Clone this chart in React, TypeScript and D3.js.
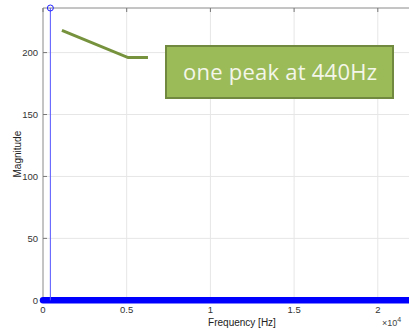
import React, { useEffect, useRef } from 'react'
import * as d3 from 'd3'

// spectrum: single peak at 440 Hz, everything else ~0
const peakFreq = [440]
const peakMag = [236]
const zeroBand = [0, 22050] // stems at zero span the whole range
const xTicks = [0, 5000, 10000, 15000, 20000]
const xTickLabels = ['0', '0.5', '1', '1.5', '2']
const yTicks = [0, 50, 100, 150, 200]
// annotation arrow (in data units)
const noteX = [1130, 5080, 6270]
const noteY = [218, 196, 196]
const noteText = 'one peak at 440Hz'

const App = () => {
  const svgRef = useRef<SVGSVGElement>(null)

  useEffect(() => {
    const width = 409
    const height = 328
    const margin = { top: 8, left: 43 }
    const svg = d3.select(svgRef.current)
    svg.selectAll('*').remove()

    const x = d3.scaleLinear().domain([0, 10000]).range([margin.left, margin.left + 167.4])
    const y = d3.scaleLinear().domain([0, 236]).range([300.3, margin.top])
    const xRight = x(22050)
    const yBottom = y(0)

    const g = svg.append('g').style('font-family', '"Liberation Sans", Arial, sans-serif')

    // grid
    g.selectAll('.gx').data(xTicks.slice(1)).enter().append('line')
      .attr('x1', d => x(d)).attr('x2', d => x(d))
      .attr('y1', margin.top).attr('y2', yBottom)
      .style('stroke', '#e6e6e6').style('stroke-width', 1)
    g.selectAll('.gy').data(yTicks.slice(1)).enter().append('line')
      .attr('x1', margin.left).attr('x2', xRight)
      .attr('y1', d => y(d)).attr('y2', d => y(d))
      .style('stroke', '#e6e6e6').style('stroke-width', 1)

    // axes box
    g.append('line').attr('x1', margin.left).attr('x2', margin.left)
      .attr('y1', margin.top).attr('y2', yBottom).style('stroke', '#8a8a8a')
    g.append('line').attr('x1', margin.left).attr('x2', xRight)
      .attr('y1', margin.top).attr('y2', margin.top).style('stroke', '#8a8a8a')
    g.append('line').attr('x1', margin.left).attr('x2', xRight)
      .attr('y1', yBottom).attr('y2', yBottom).style('stroke', '#8a8a8a')

    // ticks
    g.selectAll('.tx').data(xTicks).enter().append('line')
      .attr('x1', d => x(d)).attr('x2', d => x(d))
      .attr('y1', margin.top).attr('y2', margin.top + 4).style('stroke', '#777')
    g.selectAll('.ty').data(yTicks).enter().append('line')
      .attr('x1', margin.left).attr('x2', margin.left + 4)
      .attr('y1', d => y(d)).attr('y2', d => y(d)).style('stroke', '#777')

    g.selectAll('.txl').data(xTicks).enter().append('text')
      .attr('x', d => x(d)).attr('y', yBottom + 13)
      .attr('text-anchor', 'middle')
      .style('font-size', '9.5px').style('fill', '#333')
      .text((d, i) => xTickLabels[i])
    g.selectAll('.tyl').data(yTicks).enter().append('text')
      .attr('x', margin.left - 5).attr('y', d => y(d) + 3.5)
      .attr('text-anchor', 'end')
      .style('font-size', '9.5px').style('fill', '#333')
      .text(d => d)

    g.append('text')
      .attr('x', 242).attr('y', 325.5)
      .attr('text-anchor', 'middle')
      .style('font-size', '10px').style('fill', '#222')
      .text('Frequency [Hz]')
    g.append('text')
      .attr('transform', `translate(21,${(margin.top + yBottom) / 2}) rotate(-90)`)
      .attr('text-anchor', 'middle')
      .style('font-size', '10px').style('fill', '#222')
      .text('Magnitude')
    const mult = g.append('text').attr('x', 382).attr('y', 326)
      .style('font-size', '9px').style('fill', '#444')
    mult.append('tspan').text('×10')
    mult.append('tspan').attr('dy', -4).style('font-size', '7px').text('4')

    // zero stems as a thick band
    g.append('line')
      .attr('x1', x(zeroBand[0])).attr('x2', x(zeroBand[1]))
      .attr('y1', y(0)).attr('y2', y(0))
      .style('stroke', '#0000ff').style('stroke-width', 6.5)
      .style('stroke-linecap', 'round')

    // peak stem
    peakFreq.forEach((f, i) => {
      g.append('line')
        .attr('x1', x(f)).attr('x2', x(f))
        .attr('y1', y(0)).attr('y2', y(peakMag[i]))
        .style('stroke', '#5555ff').style('stroke-width', 1)
      g.append('circle')
        .attr('cx', x(f)).attr('cy', y(peakMag[i])).attr('r', 3)
        .style('fill', 'none').style('stroke', '#2222ff').style('stroke-width', 1)
    })

    // annotation
    const line = d3.line<number>().x(d => x(d)).y((d, i) => y(noteY[i]))
    g.append('path').attr('d', line(noteX) || '')
      .style('fill', 'none').style('stroke', '#76923c').style('stroke-width', 3)
    g.append('rect')
      .attr('x', 166).attr('y', 46).attr('width', 227).attr('height', 52)
      .style('fill', '#9bbb59').style('stroke', '#71893f').style('stroke-width', 2)
    g.append('text')
      .attr('x', 280).attr('y', 80)
      .attr('text-anchor', 'middle')
      .attr('textLength', 194)
      .style('font-family', '"Open Sans", "Noto Sans", sans-serif')
      .style('font-size', '22px').style('fill', '#f4f6ea')
      .text(noteText)

    svg.attr('width', width).attr('height', height)
  }, [])

  return (
    <svg ref={svgRef} style={{ position: 'absolute', left: 0, top: 0, background: '#fff' }} />
  )
}

export default App
